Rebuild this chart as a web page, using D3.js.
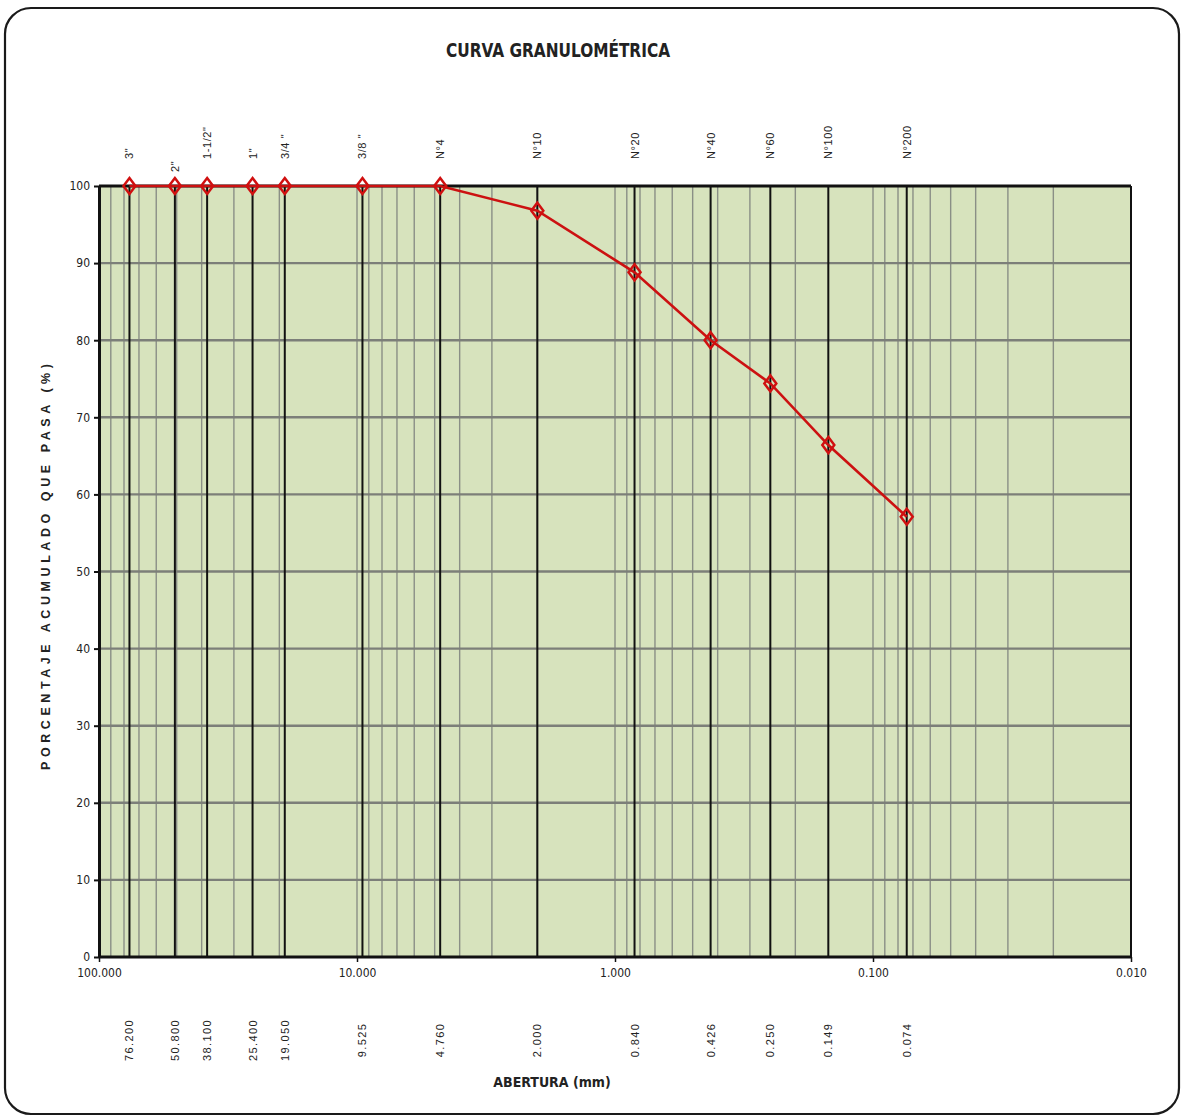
<!DOCTYPE html>
<html>
<head>
<meta charset="utf-8">
<script src="https://cdn.jsdelivr.net/npm/d3@7/dist/d3.min.js"></script>
<style>
  html, body { margin: 0; padding: 0; background: #fff; }
  svg { display: block; }
  text { fill: #222; }
</style>
</head>
<body>
<script>
// Sieve series: names, openings (mm) and cumulative percent passing
const sieveNames = ['3"', '2"', '1-1/2"', '1"', '3/4 "', '3/8 "', 'N°4', 'N°10', 'N°20', 'N°40', 'N°60', 'N°100', 'N°200'];
const openings = [76.2, 50.8, 38.1, 25.4, 19.05, 9.525, 4.76, 2.0, 0.84, 0.426, 0.25, 0.149, 0.074];
const openingLabels = ['76.200', '50.800', '38.100', '25.400', '19.050', '9.525', '4.760', '2.000', '0.840', '0.426', '0.250', '0.149', '0.074'];
const percentPassing = [100, 100, 100, 100, 100, 100, 100, 96.8, 88.8, 80.0, 74.4, 66.4, 57.1];

// Axis ticks
const yTicks = [0, 10, 20, 30, 40, 50, 60, 70, 80, 90, 100];
const xDecades = [100, 10, 1, 0.1, 0.01];
const xDecadeLabels = ['100.000', '10.000', '1.000', '0.100', '0.010'];

const W = 1183, H = 1118;
const svg = d3.select('body').append('svg').attr('width', W).attr('height', H);

// Outer rounded frame
svg.append('rect')
  .attr('x', 5).attr('y', 8).attr('width', 1174).attr('height', 1106)
  .attr('rx', 26).attr('ry', 26)
  .attr('fill', '#fff').attr('stroke', '#1a1a1a').attr('stroke-width', 2.2);

const plotLeft = 99, plotRight = 1131, plotTop = 186, plotBottom = 957;
const x = d3.scaleLog().domain([100, 0.01]).range([plotLeft, plotRight]);
const y = d3.scaleLinear().domain([0, 100]).range([plotBottom, plotTop]);

// Plot background
svg.append('rect')
  .attr('x', plotLeft).attr('y', plotTop)
  .attr('width', plotRight - plotLeft).attr('height', plotBottom - plotTop)
  .attr('fill', '#d7e3bd');

// Minor log gridlines (1..9 per decade)
const minor = [];
for (let e = -2; e < 2; e++) {
  for (let m = 1; m <= 9; m++) minor.push(m * Math.pow(10, e));
}
svg.append('g').selectAll('line').data(minor.filter(v => v > 0.01 && v < 100)).join('line')
  .attr('x1', d => x(d)).attr('x2', d => x(d))
  .attr('y1', plotTop).attr('y2', plotBottom)
  .attr('stroke', '#8a8f86').attr('stroke-width', 1.4);

// Horizontal gridlines
svg.append('g').selectAll('line').data(yTicks.filter(v => v > 0 && v < 100)).join('line')
  .attr('x1', plotLeft).attr('x2', plotRight)
  .attr('y1', d => y(d)).attr('y2', d => y(d))
  .attr('stroke', '#7c7f79').attr('stroke-width', 2.4);

// Sieve opening lines
svg.append('g').selectAll('line').data(openings).join('line')
  .attr('x1', d => x(d)).attr('x2', d => x(d))
  .attr('y1', plotTop).attr('y2', plotBottom)
  .attr('stroke', '#111').attr('stroke-width', 2);

// Plot border
svg.append('line').attr('x1', plotLeft).attr('x2', plotRight).attr('y1', plotTop).attr('y2', plotTop)
  .attr('stroke', '#111').attr('stroke-width', 3);
svg.append('line').attr('x1', plotLeft).attr('x2', plotRight).attr('y1', plotBottom).attr('y2', plotBottom)
  .attr('stroke', '#111').attr('stroke-width', 3);
svg.append('line').attr('x1', plotRight).attr('x2', plotRight).attr('y1', plotTop).attr('y2', plotBottom)
  .attr('stroke', '#111').attr('stroke-width', 2);

// Y axis
const yAxis = d3.axisLeft(y).tickValues(yTicks).tickSize(5).tickSizeOuter(0).tickPadding(4);
const gy = svg.append('g').attr('transform', `translate(${plotLeft},0)`).call(yAxis);
gy.select('.domain').attr('stroke', '#111').attr('stroke-width', 3);
gy.selectAll('.tick line').attr('stroke', '#111').attr('stroke-width', 2);
gy.selectAll('.tick text')
  .attr('font-family', '"Liberation Sans Narrow", "DejaVu Sans Condensed", sans-serif')
  .attr('font-size', 12).attr('fill', '#333');

// X axis (decades)
const xAxis = d3.axisBottom(x).tickValues(xDecades)
  .tickFormat((d, i) => xDecadeLabels[i]).tickSize(5).tickSizeOuter(0).tickPadding(6);
const gx = svg.append('g').attr('transform', `translate(0,${plotBottom})`).call(xAxis);
gx.select('.domain').remove();
gx.selectAll('.tick line').attr('stroke', '#111').attr('stroke-width', 1.5);
gx.selectAll('.tick text')
  .attr('font-family', '"Liberation Sans Narrow", "DejaVu Sans Condensed", sans-serif')
  .attr('font-size', 12).attr('fill', '#333');

// Curve
const pts = openings.map((d, i) => [d, percentPassing[i]]);
svg.append('path')
  .datum(pts)
  .attr('fill', 'none').attr('stroke', '#cc1111').attr('stroke-width', 2.6)
  .attr('d', d3.line().x(d => x(d[0])).y(d => y(d[1])));

// Diamond markers
const diamond = 'M0,-8 L6,0 L0,8 L-6,0 Z';
svg.append('g').selectAll('path').data(pts).join('path')
  .attr('transform', d => `translate(${x(d[0])},${y(d[1])})`)
  .attr('d', diamond)
  .attr('fill', 'none').attr('stroke', '#d01010').attr('stroke-width', 2.5);

// Sieve names above the plot
svg.append('g').selectAll('text').data(sieveNames).join('text')
  .attr('transform', (d, i) => `translate(${x(openings[i]) + 4},${i === 1 ? 172 : 159}) rotate(-90)`)
  .attr('text-anchor', 'start')
  .attr('font-family', 'Arial, "Liberation Sans", sans-serif')
  .attr('font-size', 11).attr('letter-spacing', 0.6).attr('fill', '#333')
  .text(d => d);

// Sieve openings below the plot
svg.append('g').selectAll('text').data(openingLabels).join('text')
  .attr('transform', (d, i) => `translate(${x(openings[i]) + 4},1040) rotate(-90)`)
  .attr('text-anchor', 'middle')
  .attr('font-family', 'Arial, "Liberation Sans", sans-serif')
  .attr('font-size', 11).attr('letter-spacing', 1.4).attr('fill', '#333')
  .text(d => d);

// Title
svg.append('text')
  .attr('x', 558).attr('y', 57)
  .attr('text-anchor', 'middle')
  .attr('font-family', '"Liberation Sans Narrow", "DejaVu Sans Condensed", sans-serif')
  .attr('font-weight', 'bold').attr('font-size', 19)
  .attr('textLength', 224).attr('lengthAdjust', 'spacingAndGlyphs')
  .text('CURVA GRANULOMÉTRICA');

// Axis titles
svg.append('text')
  .attr('transform', 'translate(50,567) rotate(-90)')
  .attr('text-anchor', 'middle')
  .attr('font-family', 'Arial, "Liberation Sans", sans-serif')
  .attr('font-weight', 'bold').attr('font-size', 12.5)
  .attr('textLength', 406).attr('lengthAdjust', 'spacing')
  .text('PORCENTAJE ACUMULADO QUE PASA (%)');

svg.append('text')
  .attr('x', 552).attr('y', 1087)
  .attr('text-anchor', 'middle')
  .attr('font-family', '"Liberation Sans Narrow", "DejaVu Sans Condensed", sans-serif')
  .attr('font-weight', 'bold').attr('font-size', 14)
  .text('ABERTURA (mm)');
</script>
</body>
</html>
